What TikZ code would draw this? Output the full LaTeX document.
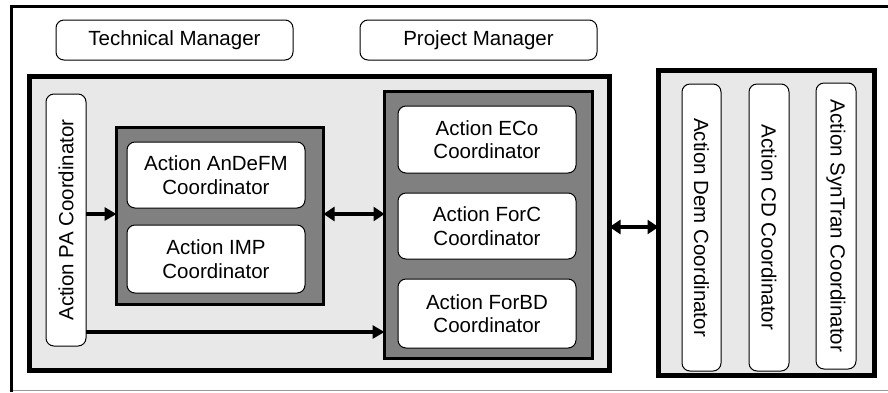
\documentclass[tikz,border=0pt]{standalone}
\usepackage{fontspec}
\setmainfont{Liberation Sans}
\usetikzlibrary{arrows.meta}
\definecolor{lightbg}{HTML}{E8E8E8}
\definecolor{darkbg}{HTML}{808080}
\begin{document}
\begin{tikzpicture}[x=1pt,y=-1pt,
  bigbox/.style={draw=black, line width=5pt, fill=lightbg, inner sep=0pt, outer sep=0pt},
  grpbox/.style={draw=black, line width=3pt, fill=darkbg, inner sep=0pt, outer sep=0pt},
  wbox/.style={draw=black, line width=1pt, fill=white, rounded corners=8pt, inner sep=0pt, outer sep=0pt,
    align=center, font=\fontsize{20.5}{23.5}\selectfont},
  arr/.style={line width=3.5pt, -{Triangle[length=12pt,width=13pt]}},
  darr/.style={line width=3.5pt, {Triangle[length=11pt,width=14pt]}-{Triangle[length=11pt,width=14pt]}}]
\useasboundingbox (0,0) rectangle (888,392);
% outer frame
\draw[line width=2.5pt] (888,6.5) -- (11.5,6.5) -- (11.5,392);
\draw[line width=1pt, color=black!40] (13,390.5) -- (888,390.5);
% managers
\node[wbox, minimum width=237pt, minimum height=40pt] (tm) at (174.5,40) {Technical Manager};
\node[wbox, minimum width=237pt, minimum height=40pt] (pm) at (478.5,40) {Project Manager};
% big boxes
\node[bigbox, minimum width=580pt, minimum height=294pt] (lbig) at (319.5,223.5) {};
\node[bigbox, minimum width=216pt, minimum height=305pt] (rbig) at (766.5,223) {};
% groups
\node[grpbox, minimum width=207pt, minimum height=177pt] (g1) at (220,216) {};
\node[grpbox, minimum width=208pt, minimum height=267pt] (g2) at (488.5,225) {};
% white boxes
\node[wbox, rotate=90, minimum width=252pt, minimum height=40pt] (pa) at (66,220) {Action PA Coordinator};
\node[wbox, minimum width=178pt, minimum height=66pt] (andefm) at (216,175) {Action AnDeFM\\Coordinator};
\node[wbox, minimum width=178pt, minimum height=68pt] (imp) at (216,259) {Action IMP\\Coordinator};
\node[wbox, minimum width=178pt, minimum height=67pt] (eco) at (487,139.5) {Action ECo\\Coordinator};
\node[wbox, minimum width=178pt, minimum height=66pt] (forc) at (487,226) {Action ForC\\Coordinator};
\node[wbox, minimum width=178pt, minimum height=69pt] (forbd) at (487,313.5) {Action ForBD\\Coordinator};
\node[wbox, rotate=-90, minimum width=287pt, minimum height=39pt] (dem) at (701.5,227.5) {Action Dem Coordinator};
\node[wbox, rotate=-90, minimum width=287pt, minimum height=40pt] (cd) at (769,227.5) {Action CD Coordinator};
\node[wbox, rotate=-90, minimum width=286pt, minimum height=40pt] (syn) at (836,226) {Action SynTran Coordinator};
% connectors
\draw[arr] (pa.south |- 0,214) -- (g1.west |- 0,214);
\draw[darr] (g1.east |- 0,214) -- (g2.west |- 0,214);
\draw[arr] (pa.south |- 0,332) -- (g2.west |- 0,332);
\draw[darr] (lbig.east |- 0,227) -- (rbig.west |- 0,227);
\end{tikzpicture}
\end{document}
